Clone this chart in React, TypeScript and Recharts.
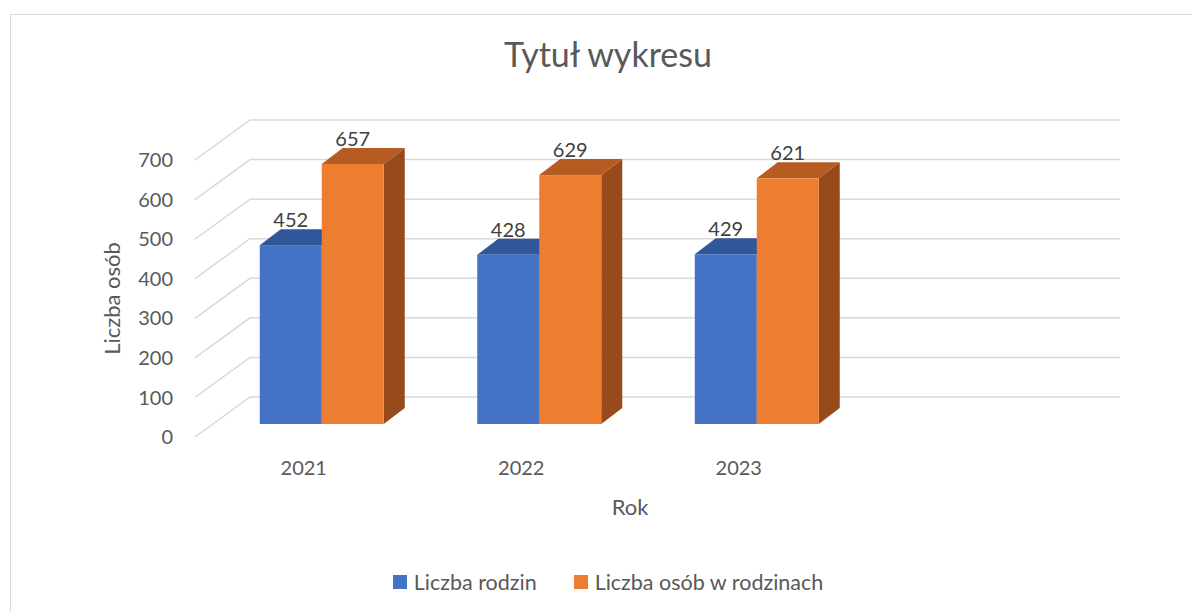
import { BarChart, Bar, XAxis, YAxis, CartesianGrid, Legend, LabelList } from 'recharts'

const years = ['2021', '2022', '2023', '']
const families = [452, 428, 429, null]
const persons = [657, 629, 621, null]
const yTicks = [0, 100, 200, 300, 400, 500, 600, 700]
const seriesNames = ['Liczba rodzin', 'Liczba osób w rodzinach']

const data = years.map((year, i) => ({ year, rodziny: families[i], osoby: persons[i] }))

// fake 3D: bars sit a bit behind the front plane, back wall further back
const BAR_DX = 18
const BAR_DY = -13
const SIDE_DX = 21
const SIDE_DY = -16
const WALL_DX = 55
const WALL_DY = -40

const BLUE = '#4472C4'
const ORANGE = '#ED7D31'
const shades: Record<string, { top: string; side: string }> = {
  [BLUE]: { top: '#30579a', side: '#2b4f8c' },
  [ORANGE]: { top: '#b65b22', side: '#974b1d' },
}

function Box3D(props: any) {
  const { x, y, width, height, fill } = props
  if (!height || height <= 0) return null
  const fx = x + BAR_DX
  const fy = y + BAR_DY
  const s = shades[fill] || { top: fill, side: fill }
  const top = `${fx},${fy} ${fx + width},${fy} ${fx + width + SIDE_DX},${fy + SIDE_DY} ${fx + SIDE_DX},${fy + SIDE_DY}`
  const side = `${fx + width},${fy} ${fx + width + SIDE_DX},${fy + SIDE_DY} ${fx + width + SIDE_DX},${fy + height + SIDE_DY} ${fx + width},${fy + height}`
  return (
    <g>
      <polygon points={side} fill={s.side} />
      <polygon points={top} fill={s.top} />
      <rect x={fx} y={fy} width={width} height={height} fill={fill} />
    </g>
  )
}

const gridLine = (p: any) => {
  const { x1, x2, y1 } = p
  const pts = `${x1},${y1} ${x1 + WALL_DX},${y1 + WALL_DY} ${x2 + WALL_DX},${y1 + WALL_DY}`
  return <polyline key={p.key ?? `g-${p.index}`} points={pts} fill="none" stroke="#d9d9d9" strokeWidth={1.5} />
}

const valueLabel = (p: any) => {
  if (p.value == null) return null
  return (
    <text x={p.x + p.width / 2 + BAR_DX} y={p.y + BAR_DY - 18} textAnchor="middle" fontSize={20} fill="#404040">
      {p.value}
    </text>
  )
}

const legendContent = (props: any) => {
  const items = [...(props.payload || [])].sort((a: any, b: any) => seriesNames.indexOf(a.value) - seriesNames.indexOf(b.value))
  return (
    <div style={{ display: 'flex', justifyContent: 'center', alignItems: 'center', height: 24, gap: 37, paddingLeft: 24 }}>
      {items.map((item: any) => (
        <div key={item.value} style={{ display: 'flex', alignItems: 'center', fontSize: 21.5, color: '#595959' }}>
          <span style={{ width: 14, height: 14, background: item.color, marginRight: 7, display: 'inline-block' }} />
          <span>{item.value}</span>
        </div>
      ))}
    </div>
  )
}

export default function App() {
  return (
    <div style={{ position: 'fixed', left: 0, top: 0, width: 1192, height: 612, overflow: 'hidden', background: '#fff', fontFamily: 'Lato' }}>
      <div style={{ position: 'absolute', left: 10, top: 14, width: 1300, height: 700, border: '1.5px solid #d9d9d9' }} />
      <div style={{ position: 'absolute', left: 0, top: 37, width: 1216, height: 34, lineHeight: '34px', textAlign: 'center', fontSize: 34, color: '#595959' }}>
        Tytuł wykresu
      </div>
      <div style={{ position: 'absolute', left: 0, top: 0 }}>
        <BarChart
          width={1192}
          height={612}
          data={data}
          margin={{ top: 160, right: 127, bottom: 71, left: 45 }}
          barCategoryGap="21.5%"
          barGap={0}
          style={{ fontFamily: 'Lato' }}
        >
          <CartesianGrid vertical={false} horizontal={gridLine} />
          <XAxis
            dataKey="year"
            height={80}
            axisLine={false}
            tickLine={false}
            tickSize={0}
            tickMargin={24}
            tick={{ fill: '#595959', fontSize: 20 }}
            label={{ value: 'Rok', position: 'insideBottom', offset: 2, fill: '#595959', fontSize: 22 }}
          />
          <YAxis
            domain={[0, 700]}
            ticks={yTicks}
            width={150}
            axisLine={false}
            tickLine={false}
            tickSize={0}
            tickMargin={22}
            tick={{ fill: '#595959', fontSize: 20 }}
            label={{ value: 'Liczba osób', angle: -90, position: 'insideLeft', offset: 67, fill: '#595959', fontSize: 22, style: { textAnchor: 'middle' } }}
          />
          <Legend
            content={legendContent}
            verticalAlign="bottom"
            wrapperStyle={{ left: 0, top: 570, bottom: 'auto', width: 1192 }}
          />
          <Bar dataKey="rodziny" name="Liczba rodzin" fill={BLUE} shape={Box3D} isAnimationActive={false}>
            <LabelList dataKey="rodziny" content={valueLabel} />
          </Bar>
          <Bar dataKey="osoby" name="Liczba osób w rodzinach" fill={ORANGE} shape={Box3D} isAnimationActive={false}>
            <LabelList dataKey="osoby" content={valueLabel} />
          </Bar>
        </BarChart>
      </div>
    </div>
  )
}
